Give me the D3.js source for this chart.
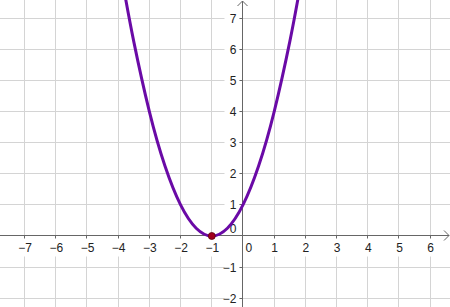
<!DOCTYPE html>
<html>
<head>
<meta charset="utf-8">
<script src="https://cdn.jsdelivr.net/npm/d3@7"></script>
<style>
  body { margin: 0; background: #fff; }
  svg { display: block; font-family: Arial, "Liberation Sans", sans-serif; }
</style>
</head>
<body>
<div id="chart-area"></div>
<script>
// points
var curveX = [-3.8, -3.5, -3, -2.5, -2, -1.5, -1, -0.5, 0, 0.5, 1, 1.5, 1.8];
var curveY = [7.84, 6.25, 4, 2.25, 1, 0.25, 0, 0.25, 1, 2.25, 4, 6.25, 7.84];
var vertex = {x: -1, y: 0};
var xTicks = [-7, -6, -5, -4, -3, -2, -1, 1, 2, 3, 4, 5, 6];
var yTicks = [-2, -1, 1, 2, 3, 4, 5, 6, 7];

var width = 450, height = 307;

var svg = d3.select("#chart-area").append("svg")
    .attr("width", width)
    .attr("height", height);

var x = d3.scaleLinear().domain([-7.788, 6.635]).range([0, width]);
var y = d3.scaleLinear().domain([-2.283, 7.588]).range([height, 0]);

var px = (v) => Math.floor(x(v)) + 0.5;
var py = (v) => Math.floor(y(v)) + 0.5;

var gridX = d3.range(-7, 7);
var gridY = d3.range(-2, 8);

// grid
svg.append("g").selectAll("line").data(gridX.filter(d => d !== 0)).enter().append("line")
    .attr("x1", d => px(d)).attr("x2", d => px(d))
    .attr("y1", 0).attr("y2", height)
    .attr("stroke", "#d4d4d4").attr("stroke-width", 1);

svg.append("g").selectAll("line").data(gridY.filter(d => d !== 0)).enter().append("line")
    .attr("y1", d => py(d)).attr("y2", d => py(d))
    .attr("x1", 0).attr("x2", width)
    .attr("stroke", "#d4d4d4").attr("stroke-width", 1);

// label backgrounds
svg.append("g").selectAll("rect").data(xTicks).enter().append("rect")
    .attr("x", d => x(d) - 10).attr("y", py(0) + 1)
    .attr("width", 20).attr("height", 20)
    .attr("fill", "#fff");

svg.append("g").selectAll("rect").data(yTicks).enter().append("rect")
    .attr("x", px(0) - 18).attr("y", d => y(d) - 8)
    .attr("width", 15).attr("height", 16)
    .attr("fill", "#fff");

svg.append("rect")
    .attr("x", px(0) + 1).attr("y", py(0) + 1)
    .attr("width", 12).attr("height", 20)
    .attr("fill", "#fff");

// axes
var axisColor = "#666";
svg.append("line")
    .attr("x1", 0).attr("x2", width - 1)
    .attr("y1", py(0)).attr("y2", py(0))
    .attr("stroke", axisColor);
svg.append("line")
    .attr("x1", px(0)).attr("x2", px(0))
    .attr("y1", 1).attr("y2", height)
    .attr("stroke", axisColor);

// arrows
svg.append("path")
    .attr("d", "M" + (width - 6) + "," + (py(0) - 5) + "L" + (width - 1) + "," + py(0) + "L" + (width - 6) + "," + (py(0) + 5))
    .attr("fill", "none").attr("stroke", axisColor);
svg.append("path")
    .attr("d", "M" + (px(0) - 5) + ",6L" + px(0) + ",1L" + (px(0) + 5) + ",6")
    .attr("fill", "none").attr("stroke", axisColor);

// ticks
svg.append("g").selectAll("line").data(xTicks).enter().append("line")
    .attr("x1", d => px(d)).attr("x2", d => px(d))
    .attr("y1", py(0)).attr("y2", py(0) + 3)
    .attr("stroke", axisColor);
svg.append("g").selectAll("line").data(yTicks).enter().append("line")
    .attr("x1", px(0) - 3).attr("x2", px(0))
    .attr("y1", d => py(d)).attr("y2", d => py(d))
    .attr("stroke", axisColor);

// tick labels
var fmt = (d) => d < 0 ? "\u2212" + Math.abs(d) : String(d);

svg.append("g").selectAll("text").data(xTicks).enter().append("text")
    .attr("x", d => x(d) + 0.5)
    .attr("y", py(0) + 16)
    .attr("text-anchor", "middle")
    .attr("font-size", "12px")
    .attr("fill", "#222")
    .text(fmt);

svg.append("g").selectAll("text").data(yTicks).enter().append("text")
    .attr("x", px(0) - 6)
    .attr("y", d => y(d) + 4.5)
    .attr("text-anchor", "end")
    .attr("font-size", "12px")
    .attr("fill", "#222")
    .text(fmt);

svg.append("text")
    .attr("x", px(0) - 6).attr("y", py(0) - 3)
    .attr("text-anchor", "end")
    .attr("font-size", "12px").attr("fill", "#222")
    .text("0");
svg.append("text")
    .attr("x", px(0) + 3).attr("y", py(0) + 16)
    .attr("font-size", "12px").attr("fill", "#222")
    .text("0");

// curve
var pts = curveX.map((d, i) => [d, curveY[i]]);
var line = d3.line()
    .x(d => x(d[0]))
    .y(d => y(d[1]))
    .curve(d3.curveNatural);

svg.append("path")
    .datum(pts)
    .attr("d", line)
    .attr("fill", "none")
    .attr("stroke", "#6a0aa6")
    .attr("stroke-width", 3);

// vertex point
svg.append("circle")
    .attr("cx", x(vertex.x))
    .attr("cy", y(vertex.y))
    .attr("r", 3.5)
    .attr("fill", "#a0001e")
    .attr("stroke", "#5a0010")
    .attr("stroke-width", 0.8);
</script>
</body>
</html>
